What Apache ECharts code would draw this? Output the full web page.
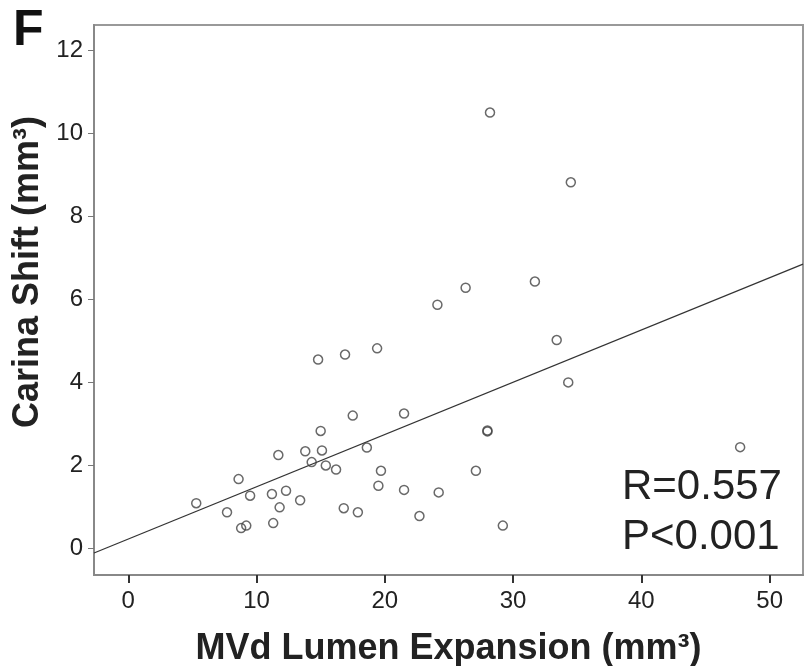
<!DOCTYPE html>
<html lang="en">
<head>
    <meta charset="utf-8">
    <title>Carina Shift vs MVd Lumen Expansion</title>
    <script src="https://cdn.jsdelivr.net/npm/echarts@6/dist/echarts.min.js"></script>
    <style>
        html,
        body,
        #main {
            width: 100%;
            height: 100%;
            margin: 0;
            padding: 0;
            overflow: hidden;
            background-color: #ffffff;
        }
    </style>
</head>

<body>
<div id="main"></div>
<script>

    // MVd lumen expansion (mm3)
    var xValues = [5.3, 7.7, 8.6, 8.8, 9.2, 9.5, 11.2, 11.3, 11.7, 11.8, 12.3, 13.4, 13.8, 14.3, 14.8,
        15.0, 15.1, 15.4, 16.2, 16.8, 16.9, 17.5, 17.9, 18.6, 19.4, 19.5, 19.7, 21.5, 21.5, 22.7,
        24.1, 24.2, 26.3, 27.1, 28.0, 28.0, 28.2, 29.2, 31.7, 33.4, 34.3, 34.5, 47.7];
    // carina shift (mm3)
    var yValues = [1.08, 0.86, 1.66, 0.48, 0.54, 1.26, 1.30, 0.60, 2.24, 0.98, 1.38, 1.15, 2.33, 2.07, 4.54,
        2.82, 2.35, 1.99, 1.89, 0.96, 4.66, 3.19, 0.86, 2.42, 4.81, 1.50, 1.86, 3.24, 1.40, 0.77,
        5.86, 1.34, 6.27, 1.86, 2.81, 2.83, 10.49, 0.54, 6.42, 5.01, 3.99, 8.81, 2.43];

    // fit line end points
    var fitX = [-2.67, 52.6];
    var fitY = [-0.12, 6.84];

    var xTicks = [0, 10, 20, 30, 40, 50];
    var yTicks = [0, 2, 4, 6, 8, 10, 12];

    var points = [];
    for (var i = 0; i < xValues.length; i++) {
        points.push([xValues[i], yValues[i]]);
    }
    var fitLine = [[fitX[0], fitY[0]], [fitX[1], fitY[1]]];

    var font = 'Liberation Sans, Arial, sans-serif';

    var myChart = echarts.init(document.getElementById('main'));
    var option = {
        animation: false,
        backgroundColor: '#ffffff',
        grid: {
            left: 94,
            top: 25,
            right: 1,
            bottom: 91,
            containLabel: false,
            outerBoundsMode: 'none',
            show: true,
            borderColor: '#999',
            borderWidth: 2
        },
        xAxis: {
            type: 'value',
            min: -2.67,
            max: 52.6,
            name: 'MVd Lumen Expansion (mm³)',
            nameLocation: 'middle',
            nameGap: 56,
            nameTextStyle: {
                fontFamily: font,
                fontSize: 36,
                fontWeight: 'bold',
                color: '#222'
            },
            splitLine: {show: false},
            axisLine: {onZero: false, lineStyle: {color: '#888', width: 2}},
            axisTick: {
                show: true,
                customValues: xTicks,
                length: 8,
                lineStyle: {color: '#333', width: 2}
            },
            axisLabel: {
                customValues: xTicks,
                margin: 14,
                fontFamily: font,
                fontSize: 24,
                color: '#222'
            }
        },
        yAxis: {
            type: 'value',
            min: -0.65,
            max: 12.6,
            splitLine: {show: false},
            axisLine: {show: true, onZero: false, lineStyle: {color: '#888', width: 2}},
            axisTick: {
                show: true,
                customValues: yTicks,
                length: 6,
                lineStyle: {color: '#777', width: 1}
            },
            axisLabel: {
                customValues: yTicks,
                margin: 11,
                fontFamily: font,
                fontSize: 24,
                color: '#222'
            }
        },
        graphic: [
            {
                type: 'text',
                left: 13,
                top: 6,
                style: {
                    text: 'F',
                    font: 'bold 50px ' + font,
                    fill: '#111'
                }
            },
            {
                type: 'text',
                x: 28,
                y: 272,
                rotation: Math.PI / 2,
                style: {
                    text: 'Carina Shift (mm³)',
                    font: 'bold 36px ' + font,
                    fill: '#222',
                    align: 'center',
                    verticalAlign: 'middle'
                }
            },
            {
                type: 'text',
                x: 622,
                y: 462,
                style: {
                    text: 'R=0.557\nP<0.001',
                    font: '42px ' + font,
                    lineHeight: 50,
                    fill: '#222'
                }
            }
        ],
        series: [
            {
                type: 'line',
                data: fitLine,
                symbol: 'none',
                lineStyle: {color: '#333', width: 1.2},
                z: 2
            },
            {
                type: 'scatter',
                data: points,
                symbol: 'circle',
                symbolSize: 9,
                itemStyle: {
                    color: 'rgba(0,0,0,0)',
                    borderColor: '#444',
                    borderWidth: 1.5
                },
                z: 3
            }
        ]
    };
    myChart.setOption(option);

</script>
</body>

</html>
